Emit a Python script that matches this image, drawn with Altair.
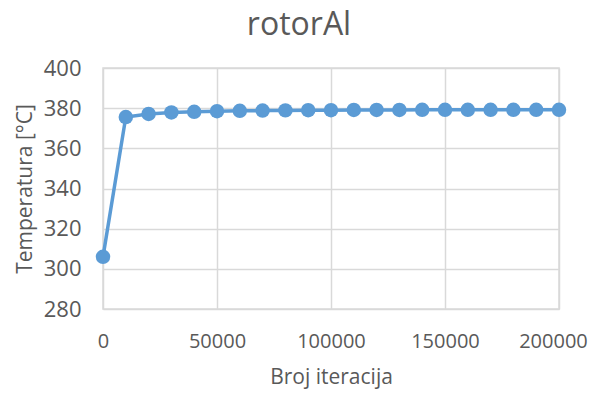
import altair as alt
import pandas as pd

iterations = [0, 10000, 20000, 30000, 40000, 50000, 60000, 70000, 80000, 90000, 100000,
              110000, 120000, 130000, 140000, 150000, 160000, 170000, 180000, 190000, 200000]
temperature = [306.0, 375.6, 377.1, 377.9, 378.2, 378.5, 378.7, 378.8, 378.9, 379.0, 379.0,
               379.1, 379.1, 379.1, 379.2, 379.2, 379.2, 379.2, 379.2, 379.2, 379.2]

df = pd.DataFrame({"iter": iterations, "temp": temperature})

FONT = "Open Sans"
GRAY = "#595959"
BLUE = "#5B9BD5"

base = alt.Chart(df)

line = base.mark_line(color=BLUE, strokeWidth=3.5).encode(
    x=alt.X("iter:Q",
            scale=alt.Scale(domain=[0, 200000], nice=False, zero=False),
            axis=alt.Axis(values=[0, 50000, 100000, 150000, 200000], format="d",
                          title="Broj iteracija", ticks=False, domain=False,
                          labelFlush=False, labelOverlap=False,
                          labelOffset={"condition": {"test": "datum.value == 200000", "value": -6},
                                       "value": 0},
                          labelPadding=22, titlePadding=15,
                          labelFontSize=20, titleFontSize=21,
                          labelColor=GRAY, titleColor=GRAY,
                          labelFont=FONT, titleFont=FONT, titleFontWeight="normal",
                          gridColor="#D9D9D9", gridWidth=1.5)),
    y=alt.Y("temp:Q",
            scale=alt.Scale(domain=[280, 400], nice=False, zero=False),
            axis=alt.Axis(values=[280, 300, 320, 340, 360, 380, 400],
                          title="Temperatura [°C]", ticks=False, domain=False,
                          labelFlush=False, labelOverlap=False,
                          labelPadding=22, titlePadding=8,
                          labelFontSize=22, titleFontSize=21,
                          labelColor=GRAY, titleColor=GRAY,
                          labelFont=FONT, titleFont=FONT, titleFontWeight="normal",
                          gridColor="#D9D9D9", gridWidth=1.5)),
)

points = base.mark_circle(color=BLUE, size=210, opacity=1).encode(
    x="iter:Q", y="temp:Q"
)

chart = (line + points).properties(
    width=456,
    height=241,
    autosize=alt.AutoSizeParams(type="none"),
    padding={"left": 95, "top": 60, "right": 30, "bottom": 82},
    title=alt.TitleParams("rotorAl", fontSize=32, font=FONT, fontWeight="normal",
                          color=GRAY, anchor="middle", dx=-32, offset=15),
).configure_view(stroke="#D9D9D9", strokeWidth=1.5)

chart.save("out.html", embed_options={"renderer": "svg", "actions": False})
